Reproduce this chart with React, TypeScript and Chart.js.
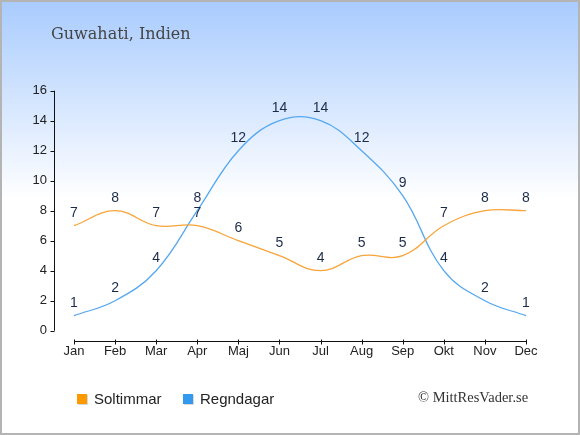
import { useEffect, useRef } from "react";
import { Chart, registerables } from "chart.js";

Chart.register(...registerables);

const months = ["Jan", "Feb", "Mar", "Apr", "Maj", "Jun", "Jul", "Aug", "Sep", "Okt", "Nov", "Dec"];
const sunHours = [7, 8, 7, 7, 6, 5, 4, 5, 5, 7, 8, 8];
const rainDays = [1, 2, 4, 8, 12, 14, 14, 12, 9, 4, 2, 1];
const seriesNames = ["Soltimmar", "Regndagar"];
const titleText = "Guwahati, Indien";
const creditText = "\u00A9 MittResVader.se";

const W = 580;
const H = 435;
const SANS = "'Liberation Sans', Arial, sans-serif";
const SERIF = "'DejaVu Serif', serif";
const ORANGE_LINE = "#f8a43a";
const BLUE_LINE = "#55a8f0";
const ORANGE_BOX = "#ff9900";
const BLUE_BOX = "#3399ee";

const decorPlugin = {
  id: "decor",
  beforeDraw(chart: any) {
    const ctx = chart.ctx;
    ctx.save();
    const g = ctx.createLinearGradient(0, 0, 0, 200);
    g.addColorStop(0, "#a8cbfe");
    g.addColorStop(1, "#ffffff");
    ctx.fillStyle = "#ffffff";
    ctx.fillRect(0, 0, W, H);
    ctx.fillStyle = g;
    ctx.fillRect(0, 0, W, 200);
    ctx.restore();
  },
  afterDatasetsDraw(chart: any) {
    const ctx = chart.ctx;
    const area = chart.chartArea;
    const xs = chart.scales.x;
    const ys = chart.scales.y;
    ctx.save();
    ctx.strokeStyle = "#111";
    ctx.lineWidth = 1;
    // y axis
    const ax = Math.round(area.left - 20) + 0.5;
    ctx.beginPath();
    ctx.moveTo(ax, ys.getPixelForValue(ys.max));
    ctx.lineTo(ax, ys.getPixelForValue(ys.min));
    ys.ticks.forEach((t: any) => {
      const py = Math.round(ys.getPixelForValue(t.value)) + 0.5;
      ctx.moveTo(ax - 4, py);
      ctx.lineTo(ax, py);
    });
    ctx.stroke();
    // x axis
    const ay = Math.round(area.bottom + 10) + 0.5;
    ctx.beginPath();
    ctx.moveTo(xs.getPixelForValue(0), ay);
    ctx.lineTo(xs.getPixelForValue(months.length - 1), ay);
    months.forEach((_m, i) => {
      const px = Math.round(xs.getPixelForValue(i)) + 0.5;
      ctx.moveTo(px, ay - 2);
      ctx.lineTo(px, ay + 3);
    });
    ctx.stroke();
    // data labels
    ctx.fillStyle = "#1d2b4a";
    ctx.font = "14px " + SANS;
    ctx.textAlign = "center";
    ctx.textBaseline = "alphabetic";
    chart.data.datasets.forEach((ds: any, di: number) => {
      const meta = chart.getDatasetMeta(di);
      meta.data.forEach((pt: any, i: number) => {
        ctx.fillText(String(ds.data[i]), pt.x, pt.y - 8.5);
      });
    });
    ctx.restore();
  },
  afterDraw(chart: any) {
    const ctx = chart.ctx;
    ctx.save();
    // title
    ctx.fillStyle = "#444";
    ctx.font = "16px " + SERIF;
    ctx.textAlign = "left";
    ctx.textBaseline = "alphabetic";
    ctx.fillText(titleText, 51, 39);
    // legend
    const boxes = [ORANGE_BOX, BLUE_BOX];
    const lx = [77, 183];
    ctx.font = "15px " + SANS;
    ctx.textBaseline = "middle";
    seriesNames.forEach((name, i) => {
      ctx.fillStyle = "rgba(0,0,0,0.15)";
      ctx.fillRect(lx[i] + 1, 395, 10, 10);
      ctx.fillStyle = boxes[i];
      ctx.fillRect(lx[i], 394, 10, 10);
      ctx.fillStyle = "#222";
      ctx.fillText(name, lx[i] + 17, 399.5);
    });
    // credit
    ctx.fillStyle = "#333";
    ctx.font = "14.5px 'Liberation Serif', serif";
    ctx.textBaseline = "alphabetic";
    ctx.fillText(creditText, 418, 402);
    // frame
    ctx.strokeStyle = "#b4b4b4";
    ctx.lineWidth = 2;
    ctx.strokeRect(1, 1, W - 2, H - 2);
    ctx.restore();
  },
};

export default function App() {
  const ref = useRef<HTMLCanvasElement | null>(null);
  useEffect(() => {
    if (!ref.current) return;
    const chart = new Chart(ref.current, {
      type: "line",
      data: {
        labels: months,
        datasets: [
          {
            label: seriesNames[0],
            data: sunHours,
            borderColor: ORANGE_LINE,
            backgroundColor: ORANGE_BOX,
            borderWidth: 1.3,
            pointRadius: 0,
            tension: 0.4,
            fill: false,
          },
          {
            label: seriesNames[1],
            data: rainDays,
            borderColor: BLUE_LINE,
            backgroundColor: BLUE_BOX,
            borderWidth: 1.3,
            pointRadius: 0,
            tension: 0.4,
            fill: false,
          },
        ],
      },
      options: {
        responsive: false,
        animation: false,
        devicePixelRatio: 1,
        layout: { padding: { top: 90.7, right: 54, left: 0, bottom: 0 } },
        plugins: {
          legend: { display: false },
          title: { display: false },
          tooltip: { enabled: false },
        },
        scales: {
          x: {
            type: "category",
            offset: false,
            grid: { display: false, drawTicks: false },
            border: { display: false },
            ticks: {
              padding: 13,
              maxRotation: 0,
              autoSkip: false,
              color: "#222",
              font: { family: SANS, size: 13 },
            },
            afterFit: (s: any) => {
              s.height = 104.3;
            },
          },
          y: {
            min: 0,
            max: 16,
            grid: { display: false, drawTicks: false },
            border: { display: false },
            ticks: {
              stepSize: 2,
              padding: 27,
              color: "#222",
              font: { family: SANS, size: 13 },
            },
            afterFit: (s: any) => {
              s.width = 74;
            },
          },
        },
      },
      plugins: [decorPlugin],
    });
    return () => chart.destroy();
  }, []);
  return (
    <div style={{ position: "absolute", left: 0, top: 0, width: W, height: H }}>
      <canvas ref={ref} width={W} height={H} style={{ width: W, height: H, display: "block" }} />
    </div>
  );
}
